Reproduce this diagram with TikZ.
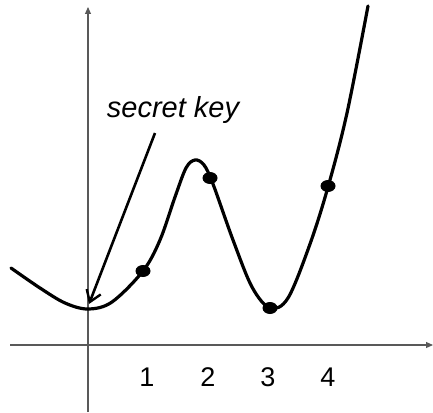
\documentclass[tikz,border=0pt]{standalone}
\usepackage{fontspec}
\setmainfont{Liberation Sans}
\usetikzlibrary{arrows.meta, shapes.geometric, positioning}
\tikzset{
  axisline/.style={-{Triangle[length=7pt,width=6pt]}, line width=1.1pt, color=black!65},
  curveline/.style={line width=3.2pt, color=black, line cap=round},
  dotnode/.style={ellipse, fill=black, inner sep=0pt, minimum width=15pt, minimum height=12pt},
  ticklabel/.style={font=\fontsize{27}{27}\selectfont, inner sep=0pt},
  keylabel/.style={font=\fontsize{29}{29}\selectfont\itshape, inner sep=0pt},
  keyarrow/.style={-{Straight Barb[length=11pt,width=15pt,line width=2.4pt]}, line width=2.6pt}
}
\begin{document}
\begin{tikzpicture}[x=1pt, y=-1pt]
  \useasboundingbox (0,0) rectangle (433,412);

  % Axes
  \coordinate (xl) at (10,345);
  \coordinate (xr) at (433,345);
  \coordinate (yb) at (88,412);
  \coordinate (yt) at (88,7);
  \draw[axisline] (xl) -- (xr);
  \draw[axisline] (yb) -- (yt);

  % Curve
  \draw[curveline] plot[smooth, tension=0.55] coordinates {
    (11,268) (40,288) (65,303) (88,309) (112,302) (143,271) (160,240)
    (175,197) (186,168) (195,160) (204,165) (213,184) (233,240) (252,287)
    (270,308) (288,298) (310,244) (328,187) (347,113) (368,6)};

  % Points
  \node[dotnode] (p1) at (143,271) {};
  \node[dotnode] (p2) at (210,178) {};
  \node[dotnode] (p3) at (270,308) {};
  \node[dotnode] (p4) at (328,186) {};

  % Labels
  \node[ticklabel] (l1) at (147,377) {1};
  \node[ticklabel] (l2) at (208,377) {2};
  \node[ticklabel] (l3) at (268,377) {3};
  \node[ticklabel] (l4) at (328,377) {4};

  % Secret key
  \node[keylabel] (key) at (173,110) {secret key};
  \coordinate (ks) at (155,133);
  \coordinate (km) at (89,304);
  \draw[keyarrow] (ks) -- (km);

\end{tikzpicture}
\end{document}
